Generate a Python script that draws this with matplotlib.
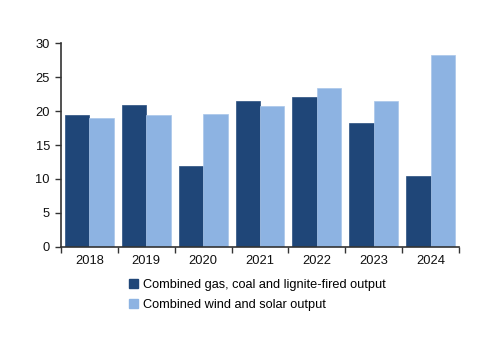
import numpy as np
import matplotlib.pyplot as plt
from matplotlib.patches import Patch

plt.rcParams['font.family'] = ['Liberation Sans', 'DejaVu Sans']

years = ['2018', '2019', '2020', '2021', '2022', '2023', '2024']
fossil = [19.5, 20.85, 11.95, 21.5, 22.1, 18.3, 10.5]
renew = [19.0, 19.5, 19.65, 20.8, 23.45, 21.45, 28.3]

dark = '#1f4678'
light = '#8db3e2'

fig = plt.figure(figsize=(5, 3.53), dpi=100)
ax = fig.add_axes([0.122, 0.301, 0.796, 0.576])

x = np.arange(len(years))
w = 0.43
ax.bar(x - w / 2, fossil, w, color=dark, edgecolor='#2a4f80', linewidth=0.5)
ax.bar(x + w / 2, renew, w, color=light, edgecolor='#a9c6ea', linewidth=0.5)

ax.set_xlim(-0.5, len(years) - 0.5)
ax.set_ylim(0, 30)
ax.set_yticks(range(0, 31, 5))
ax.set_xticks(x)
ax.set_xticklabels(years)
ax.set_xticks(np.arange(-0.5, len(years)), minor=True)
ax.tick_params(axis='x', which='major', length=0, pad=6)
ax.tick_params(axis='x', which='minor', length=4, width=1, color='#333333')
ax.tick_params(axis='y', length=4, width=1, color='#333333', pad=4)
ax.tick_params(labelsize=9.3, labelcolor='#111111')

for s in ['top', 'right']:
    ax.spines[s].set_visible(False)
for s in ['left', 'bottom']:
    ax.spines[s].set_color('#333333')
    ax.spines[s].set_linewidth(1.2)

handles = [Patch(color=dark, label='Combined gas, coal and lignite-fired output'),
           Patch(color=light, label='Combined wind and solar output')]
fig.legend(handles=handles, loc='upper left', bbox_to_anchor=(0.245, 0.228),
           frameon=False, fontsize=9.2, handlelength=0.7, handleheight=0.7,
           handletextpad=0.4, labelspacing=0.6, borderpad=0)

fig.savefig('out.png', dpi=100)
